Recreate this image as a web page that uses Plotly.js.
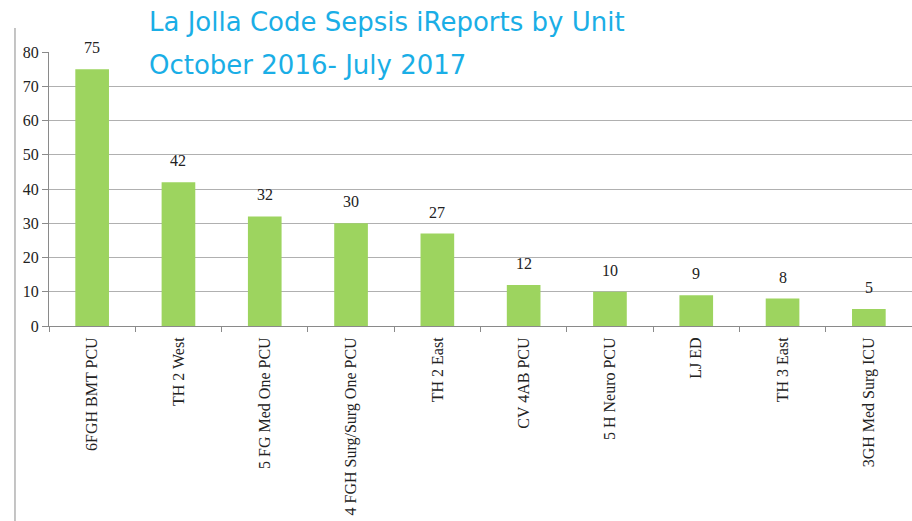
<!DOCTYPE html>
<html>
<head>
<meta charset="utf-8">
<script src="https://cdn.plot.ly/plotly-3.0.1.min.js"></script>
<style>html,body{margin:0;padding:0;background:#fff;}#chart{width:912px;height:521px;}</style>
</head>
<body>
<div id="chart"></div>
<script>
var units = ["6FGH BMT PCU", "TH 2 West", "5 FG Med One PCU", "4 FGH Surg/Surg One PCU", "TH 2 East", "CV 4AB PCU", "5 H Neuro PCU", "LJ ED", "TH 3 East", "3GH Med Surg ICU"];
var reports = [75, 42, 32, 30, 27, 12, 10, 9, 8, 5];
var yTicks = [0, 10, 20, 30, 40, 50, 60, 70, 80];
var titleLine1 = "La Jolla Code Sepsis iReports by Unit";
var titleLine2 = "October 2016- July 2017";

var serif = "Liberation Serif, Times New Roman, serif";
var titleFont = {family: "DejaVu Sans, sans-serif", size: 26, color: "#1AAEE6", weight: 400};

var valueLabels = units.map(function (u, i) {
  return {
    x: u, y: reports[i], xref: "x", yref: "y",
    text: String(reports[i]), showarrow: false,
    yanchor: "bottom", yshift: 11,
    font: {family: serif, size: 16, color: "#222"}
  };
});

var titleAnn = [
  {text: titleLine1, xref: "paper", yref: "paper", x: 0.114, y: 1.1095, xanchor: "left", yanchor: "middle", showarrow: false, font: titleFont},
  {text: titleLine2, xref: "paper", yref: "paper", x: 0.114, y: 0.9526, xanchor: "left", yanchor: "middle", showarrow: false, font: titleFont}
];

var data = [{
  type: "bar",
  x: units,
  y: reports,
  marker: {color: "#9DD45F"},
  width: 0.39,
  hoverinfo: "x+y"
}];

var layout = {
  width: 912, height: 521,
  margin: {l: 49, r: 0, t: 52, b: 195},
  paper_bgcolor: "#fff", plot_bgcolor: "#fff",
  showlegend: false,
  xaxis: {
    type: "category",
    tickangle: -90,
    tickfont: {family: serif, size: 16, color: "#222"},
    ticklabelstandoff: 4,
    showline: true, linecolor: "#8a8a8a", linewidth: 1,
    ticks: "outside", tickson: "boundaries", ticklen: 5, tickcolor: "#8a8a8a",
    showgrid: false,
    range: [-0.5, 9.5],
    fixedrange: true
  },
  yaxis: {
    range: [0, 80],
    tickvals: yTicks,
    ticktext: yTicks.map(String),
    tickfont: {family: serif, size: 16, color: "#222"},
    showline: true, linecolor: "#8a8a8a", linewidth: 1,
    ticks: "outside", ticklen: 6, tickcolor: "#8a8a8a",
    showgrid: true, gridcolor: "#b0b0b0", gridwidth: 1,
    zeroline: false,
    fixedrange: true
  },
  annotations: valueLabels.concat(titleAnn),
  shapes: [{
    type: "line", xref: "paper", yref: "paper",
    x0: -0.0394, x1: -0.0394, y0: 1.0876, y1: -0.75,
    line: {color: "#8a8a8a", width: 1}
  }]
};

Plotly.newPlot("chart", data, layout, {displayModeBar: false, staticPlot: true});
</script>
</body>
</html>
